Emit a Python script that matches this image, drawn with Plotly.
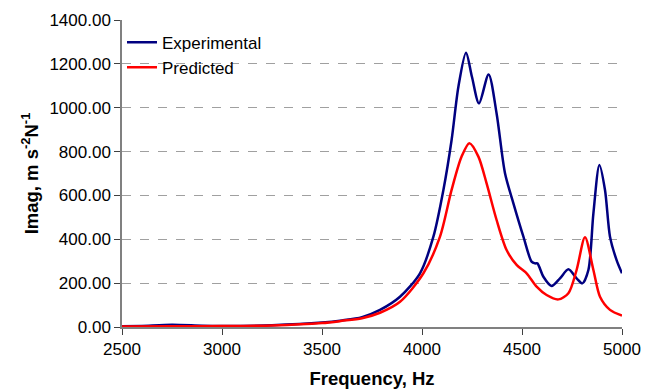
import plotly.graph_objects as go

freq_exp = [2500, 2600, 2750, 2900, 3000, 3250, 3500, 3600, 3700, 3790, 3890, 3990, 4057, 4107, 4148, 4182, 4220,
            4250, 4285, 4333, 4373, 4415, 4457, 4507, 4548, 4565, 4577, 4607, 4648, 4690, 4732, 4773, 4802, 4832,
            4857, 4887, 4915, 4940, 4973, 5000]
imag_exp = [3, 5, 10, 6, 5, 8, 20, 30, 45, 78, 138, 245, 412, 625, 853, 1096, 1251,
            1140, 1020, 1152, 974, 701, 564, 412, 298, 290, 290, 229, 187, 222, 263, 222, 199, 260,
            518, 739, 625, 412, 305, 245]

freq_pred = [2500, 2750, 3000, 3250, 3500, 3600, 3700, 3790, 3890, 4007, 4090, 4148, 4198, 4237, 4282, 4323, 4373,
             4423, 4473, 4523, 4573, 4623, 4682, 4732, 4773, 4815, 4857, 4890, 4940, 5000]
imag_pred = [2, 3, 4, 7, 18, 28, 40, 65, 115, 245, 412, 625, 777, 838, 777, 655, 488,
             351, 283, 245, 184, 146, 126, 154, 260, 409, 260, 138, 78, 52]

fig = go.Figure()
fig.add_trace(go.Scatter(x=freq_exp, y=imag_exp, mode="lines", name="Experimental",
                         line=dict(color="#000080", width=2.5, shape="spline", smoothing=0.8)))
fig.add_trace(go.Scatter(x=freq_pred, y=imag_pred, mode="lines", name="Predicted",
                         line=dict(color="#ff0000", width=2.5, shape="spline", smoothing=0.8)))

font = "Liberation Sans, Arial, sans-serif"
fig.update_layout(
    width=660, height=392,
    margin=dict(l=122, r=38, t=20, b=65),
    paper_bgcolor="white", plot_bgcolor="white",
    font=dict(family=font, size=17, color="black"),
    showlegend=True,
    legend=dict(x=0.0, y=0.985, xanchor="left", yanchor="top", bgcolor="rgba(0,0,0,0)",
                font=dict(size=17), itemwidth=30, tracegroupgap=0),
    xaxis=dict(range=[2500, 5000], tickvals=[2500, 3000, 3500, 4000, 4500, 5000], automargin=False,
               showgrid=False, zeroline=False, showline=True, linecolor="#808080", linewidth=1.5,
               ticks="outside", ticklen=6, tickcolor="#404040",
               title=dict(text="<b>Frequency, Hz</b>", font=dict(size=18.5), standoff=14)),
    yaxis=dict(range=[0, 1400], tickvals=[0, 200, 400, 600, 800, 1000, 1200, 1400], tickformat=".2f",
               automargin=False,
               showgrid=True, gridcolor="#a0a0a0", griddash="dash", gridwidth=1,
               zeroline=False, showline=True, linecolor="#808080", linewidth=1.5,
               ticks="outside", ticklen=6, tickcolor="#404040",
               title=dict(text="<b>Imag, m s<sup>-2</sup>N<sup>-1</sup></b>", font=dict(size=18.5), standoff=6)),
)
fig.write_html("out.html")
